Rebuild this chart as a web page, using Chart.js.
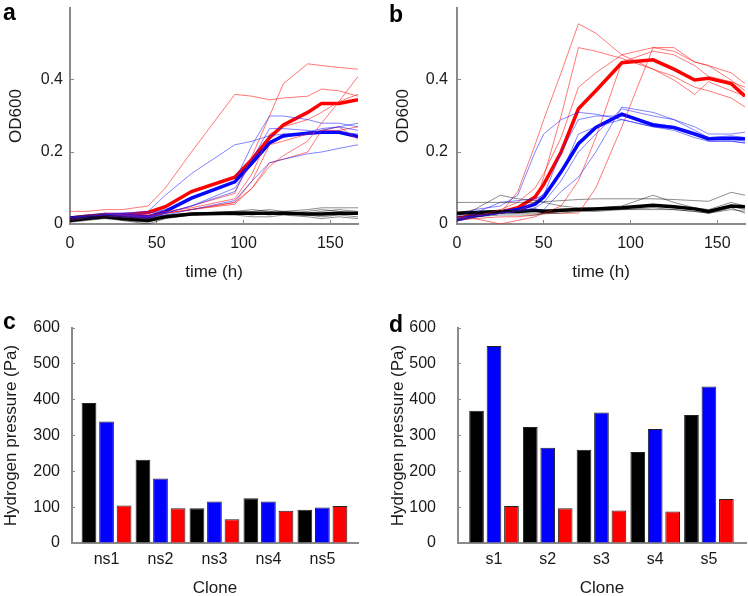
<!DOCTYPE html>
<html>
<head>
<meta charset="utf-8">
<script src="https://cdn.jsdelivr.net/npm/chart.js@4.4.0/dist/chart.umd.min.js"></script>
<style>
  html, body { margin: 0; padding: 0; background: #fff; }
  #fig { position: relative; width: 748px; height: 596px; overflow: hidden; font-family: "Liberation Sans", Arial, sans-serif; }
  canvas { position: absolute; }
  .tag { position: absolute; font-weight: bold; font-size: 23px; line-height: 1; color: #000; }
</style>
</head>
<body>
<div id="fig">
  <canvas id="chartA" width="374" height="300" style="left:0;top:0"></canvas>
  <canvas id="chartB" width="374" height="300" style="left:374px;top:0"></canvas>
  <canvas id="chartC" width="374" height="300" style="left:0;top:300px"></canvas>
  <canvas id="chartD" width="374" height="300" style="left:374px;top:300px"></canvas>
  <div class="tag" style="left:3px;top:1px">a</div>
  <div class="tag" style="left:389px;top:3px">b</div>
  <div class="tag" style="left:3px;top:310px">c</div>
  <div class="tag" style="left:389px;top:313px">d</div>
</div>
<script>
// --- DATA ---
const timeTicks = [0, 50, 100, 150];
const odTicks = [0, 0.2, 0.4];
const pressureTicks = [0, 100, 200, 300, 400, 500, 600];

// panel a: non-stressed growth curves (OD600)
const timeA = [0, 10, 20, 30, 45, 55, 70, 95, 105, 115, 123, 137, 145, 155, 166];
const blackRunsA = [
  [0.02, 0.025, 0.025, 0.02, 0.015, 0.025, 0.03, 0.035, 0.035, 0.04, 0.035, 0.04, 0.045, 0.045, 0.045],
  [0.005, 0.01, 0.015, 0.01, 0.005, 0.02, 0.025, 0.03, 0.03, 0.025, 0.03, 0.025, 0.02, 0.025, 0.02],
  [0.01, 0.02, 0.02, 0.01, 0.0, 0.015, 0.025, 0.03, 0.025, 0.03, 0.035, 0.03, 0.035, 0.04, 0.035],
  [0.015, 0.02, 0.02, 0.015, 0.01, 0.02, 0.03, 0.025, 0.02, 0.02, 0.025, 0.02, 0.015, 0.02, 0.015],
  [0.01, 0.015, 0.02, 0.015, 0.01, 0.02, 0.03, 0.035, 0.04, 0.035, 0.03, 0.035, 0.04, 0.035, 0.03]
];
const blackMeanA = [0.01, 0.015, 0.02, 0.015, 0.01, 0.02, 0.028, 0.03, 0.03, 0.03, 0.03, 0.028, 0.028, 0.03, 0.03];
const blueRunsA = [
  [0.02, 0.025, 0.03, 0.03, 0.03, 0.04, 0.07, 0.12, 0.22, 0.30, 0.30, 0.29, 0.28, 0.28, 0.27],
  [0.02, 0.02, 0.025, 0.03, 0.035, 0.08, 0.14, 0.22, 0.23, 0.245, 0.25, 0.25, 0.26, 0.27, 0.28],
  [0.01, 0.015, 0.02, 0.02, 0.02, 0.025, 0.04, 0.065, 0.12, 0.17, 0.18, 0.195, 0.20, 0.21, 0.22],
  [0.02, 0.02, 0.025, 0.02, 0.015, 0.03, 0.05, 0.09, 0.18, 0.265, 0.265, 0.26, 0.255, 0.255, 0.25],
  [0.015, 0.02, 0.025, 0.025, 0.02, 0.03, 0.05, 0.10, 0.17, 0.23, 0.24, 0.255, 0.265, 0.27, 0.26]
];
const blueMeanA = [0.015, 0.02, 0.025, 0.025, 0.02, 0.035, 0.072, 0.117, 0.17, 0.225, 0.245, 0.252, 0.255, 0.255, 0.243];
const redRunsA = [
  [0.035, 0.035, 0.04, 0.04, 0.05, 0.10, 0.20, 0.36, 0.355, 0.345, 0.35, 0.355, 0.375, 0.37, 0.355],
  [0.01, 0.02, 0.025, 0.02, 0.015, 0.03, 0.05, 0.085, 0.19, 0.30, 0.39, 0.445, 0.44, 0.435, 0.43],
  [0.02, 0.025, 0.03, 0.025, 0.02, 0.03, 0.04, 0.06, 0.10, 0.16, 0.19, 0.23, 0.28, 0.34, 0.41],
  [0.01, 0.02, 0.02, 0.02, 0.02, 0.03, 0.04, 0.06, 0.12, 0.22, 0.23, 0.25, 0.26, 0.27, 0.235],
  [0.02, 0.025, 0.025, 0.025, 0.025, 0.03, 0.04, 0.055, 0.10, 0.17, 0.18, 0.20, 0.26, 0.26, 0.27],
  [0.015, 0.02, 0.03, 0.03, 0.03, 0.035, 0.045, 0.07, 0.14, 0.25, 0.27, 0.29, 0.31, 0.34, 0.36]
];
const redMeanA = [0.01, 0.02, 0.025, 0.025, 0.032, 0.048, 0.09, 0.13, 0.18, 0.24, 0.275, 0.31, 0.335, 0.335, 0.345];

// panel b: stressed growth curves (OD600)
const timeB = [0, 10, 25, 35, 45, 50, 60, 70, 80, 95, 113, 125, 137, 145, 158, 166];
const blackRunsB = [
  [0.06, 0.06, 0.06, 0.06, 0.06, 0.062, 0.065, 0.068, 0.07, 0.07, 0.07, 0.068, 0.065, 0.063, 0.088, 0.08],
  [0.03, 0.04, 0.08, 0.07, 0.065, 0.06, 0.05, 0.045, 0.045, 0.05, 0.08, 0.06, 0.045, 0.04, 0.06, 0.05],
  [0.02, 0.025, 0.03, 0.03, 0.03, 0.03, 0.035, 0.04, 0.04, 0.04, 0.045, 0.04, 0.035, 0.03, 0.04, 0.035],
  [0.025, 0.03, 0.035, 0.035, 0.04, 0.04, 0.04, 0.038, 0.04, 0.045, 0.05, 0.045, 0.04, 0.035, 0.05, 0.04],
  [0.01, 0.02, 0.025, 0.025, 0.025, 0.028, 0.03, 0.035, 0.035, 0.04, 0.04, 0.04, 0.035, 0.03, 0.045, 0.03]
];
const blackMeanB = [0.03, 0.032, 0.035, 0.035, 0.038, 0.035, 0.038, 0.04, 0.042, 0.045, 0.052, 0.048, 0.042, 0.035, 0.05, 0.048];
const blueRunsB = [
  [0.01, 0.03, 0.06, 0.065, 0.07, 0.08, 0.2, 0.29, 0.30, 0.30, 0.28, 0.27, 0.25, 0.23, 0.23, 0.225],
  [0.02, 0.04, 0.05, 0.08, 0.2, 0.25, 0.29, 0.31, 0.305, 0.29, 0.27, 0.265, 0.25, 0.24, 0.245, 0.24],
  [0.01, 0.02, 0.03, 0.035, 0.045, 0.06, 0.12, 0.2, 0.25, 0.32, 0.30, 0.29, 0.27, 0.25, 0.25, 0.255],
  [0.015, 0.02, 0.03, 0.035, 0.04, 0.04, 0.09, 0.13, 0.2, 0.325, 0.31, 0.29, 0.26, 0.24, 0.235, 0.23],
  [0.01, 0.02, 0.03, 0.04, 0.06, 0.085, 0.14, 0.25, 0.27, 0.29, 0.27, 0.26, 0.24, 0.23, 0.23, 0.225]
];
const blueMeanB = [0.012, 0.022, 0.033, 0.04, 0.055, 0.075, 0.145, 0.223, 0.268, 0.305, 0.275, 0.268, 0.25, 0.237, 0.238, 0.237];
const redRunsB = [
  [0.02, 0.025, 0.03, 0.09, 0.22, 0.29, 0.42, 0.556, 0.53, 0.47, 0.43, 0.40, 0.36, 0.395, 0.37, 0.355],
  [0.015, 0.02, 0.03, 0.035, 0.06, 0.13, 0.3, 0.49, 0.48, 0.46, 0.43, 0.41, 0.38, 0.37, 0.35, 0.325],
  [0.01, 0.02, 0.04, 0.06, 0.1, 0.14, 0.24, 0.38, 0.42, 0.47, 0.49, 0.49, 0.45, 0.44, 0.42, 0.39],
  [0.02, 0.015, 0.0, 0.01, 0.02, 0.03, 0.05, 0.12, 0.24, 0.45, 0.48, 0.47, 0.44, 0.41, 0.395, 0.38],
  [0.01, 0.015, 0.02, 0.02, 0.025, 0.03, 0.03, 0.03, 0.1, 0.27, 0.49, 0.48, 0.45, 0.44, 0.40, 0.37]
];
const redMeanB = [0.015, 0.025, 0.033, 0.045, 0.075, 0.11, 0.2, 0.32, 0.37, 0.448, 0.456, 0.43, 0.40, 0.405, 0.39, 0.355];

// panels c and d: hydrogen pressure per clone (Pa)
const clonesC = ['ns1', 'ns2', 'ns3', 'ns4', 'ns5'];
const blackC = [391, 232, 97, 125, 93];
const blueC = [339, 180, 116, 116, 99];
const redC = [105, 97, 66, 90, 103];

const clonesD = ['s1', 's2', 's3', 's4', 's5'];
const blackD = [369, 324, 260, 254, 357];
const blueD = [550, 266, 364, 318, 437];
const redD = [103, 97, 91, 88, 123];

// --- STYLE ---
const axisGray = '#8a8a8a';
const textColor = '#1a1a1a';
const tickFont = { family: '"Liberation Sans", Arial, sans-serif', size: 16 };
const titleFont = { family: '"Liberation Sans", Arial, sans-serif', size: 17 };

// fixed axis box, no extra label padding pushed into the layout
function fixBox(size) {
  return s => {
    if (s.isHorizontal()) s.height = size; else s.width = size;
    s.paddingTop = 0; s.paddingBottom = 0; s.paddingLeft = 0; s.paddingRight = 0;
  };
}

function runSets(times, runs, color) {
  return runs.map(r => ({
    data: r.map((v, i) => ({ x: times[i], y: v })),
    borderColor: color, borderWidth: 1, pointRadius: 0, tension: 0, fill: false
  }));
}
function meanSet(times, vals, color) {
  return {
    data: vals.map((v, i) => ({ x: times[i], y: v })),
    borderColor: color, borderWidth: 3.5, pointRadius: 0, tension: 0, fill: false
  };
}

function growthChart(id, times, sets, yWidth, yTickPad, yTitlePad, padRight) {
  return new Chart(document.getElementById(id), {
    type: 'line',
    data: {
      datasets: [
        ...runSets(times, sets.blackRuns, 'rgba(0,0,0,0.45)'),
        ...runSets(times, sets.blueRuns, 'rgba(30,30,255,0.55)'),
        ...runSets(times, sets.redRuns, 'rgba(255,30,30,0.6)'),
        meanSet(times, sets.blackMean, '#000'),
        meanSet(times, sets.blueMean, '#0000ff'),
        meanSet(times, sets.redMean, '#ff0000')
      ]
    },
    options: {
      responsive: false, animation: false, devicePixelRatio: 1,
      layout: { padding: { top: 8, right: padRight, left: 0, bottom: 0 } },
      plugins: { legend: { display: false }, tooltip: { enabled: false } },
      scales: {
        x: {
          type: 'linear', min: 0, max: 166,
          afterBuildTicks: s => { s.ticks = timeTicks.map(v => ({ value: v })); },
          afterFit: fixBox(76),
          grid: { drawOnChartArea: false, drawTicks: true, tickLength: -4, color: axisGray },
          border: { color: axisGray, width: 2 },
          ticks: { font: tickFont, color: textColor, padding: 14, maxRotation: 0 },
          title: { display: true, text: 'time (h)', font: titleFont, color: textColor, padding: { top: 0, bottom: 17 } }
        },
        y: {
          type: 'linear', min: 0, max: 0.6,
          afterBuildTicks: s => { s.ticks = odTicks.map(v => ({ value: v })); },
          afterFit: fixBox(yWidth),
          grid: { drawOnChartArea: false, drawTicks: true, tickLength: -4, color: axisGray },
          border: { color: axisGray, width: 2 },
          ticks: { font: tickFont, color: textColor, padding: yTickPad, callback: v => String(v) },
          title: { display: true, text: 'OD600', font: titleFont, color: textColor, padding: { top: yTitlePad, bottom: 0 } }
        }
      }
    }
  });
}

function pressureChart(id, clones, black, blue, red, xMin, xMax, yWidth, yTickPad, yTitlePad, padRight) {
  const bars = (vals, color) => ({
    data: vals.map((v, i) => ({ x: i + 1, y: v })),
    backgroundColor: color, borderColor: '#222', borderWidth: 1,
    categoryPercentage: 0.975, barPercentage: 0.84
  });
  return new Chart(document.getElementById(id), {
    type: 'bar',
    data: { datasets: [bars(black, '#000000'), bars(blue, '#0000ff'), bars(red, '#ff0000')] },
    options: {
      responsive: false, animation: false, devicePixelRatio: 1,
      layout: { padding: { top: 28, right: padRight, left: 0, bottom: 0 } },
      plugins: { legend: { display: false }, tooltip: { enabled: false } },
      scales: {
        x: {
          type: 'linear', min: xMin, max: xMax, offset: false,
          afterBuildTicks: s => { s.ticks = clones.map((c, i) => ({ value: i + 1 })); },
          afterFit: fixBox(57),
          grid: { display: false, drawTicks: false },
          border: { color: axisGray, width: 2 },
          ticks: { font: tickFont, color: textColor, padding: 7, maxRotation: 0, callback: v => clones[v - 1] },
          title: { display: true, text: 'Clone', font: titleFont, color: textColor, padding: { top: 0, bottom: 1 } }
        },
        y: {
          type: 'linear', min: 0, max: 600,
          afterBuildTicks: s => { s.ticks = pressureTicks.map(v => ({ value: v })); },
          afterFit: fixBox(yWidth),
          grid: { drawOnChartArea: false, drawTicks: true, tickLength: -3, color: axisGray },
          border: { color: axisGray, width: 2 },
          ticks: { font: tickFont, color: textColor, padding: yTickPad },
          title: { display: true, text: 'Hydrogen pressure (Pa)', font: titleFont, color: textColor, padding: { top: yTitlePad, bottom: 0 } }
        }
      }
    }
  });
}

growthChart('chartA', timeA,
  { blackRuns: blackRunsA, blackMean: blackMeanA, blueRuns: blueRunsA, blueMean: blueMeanA, redRuns: redRunsA, redMean: redMeanA },
  70, 11, 6, 16);
growthChart('chartB', timeB,
  { blackRuns: blackRunsB, blackMean: blackMeanB, blueRuns: blueRunsB, blueMean: blueMeanB, redRuns: redRunsB, redMean: redMeanB },
  83, 13, 19, 3);
pressureChart('chartC', clonesC, blackC, blueC, redC, 0.36, 5.66, 72, 15, 1, 16);
pressureChart('chartD', clonesD, blackD, blueD, redD, 0.33, 5.69, 84, 25, 14, 2);
</script>
</body>
</html>
